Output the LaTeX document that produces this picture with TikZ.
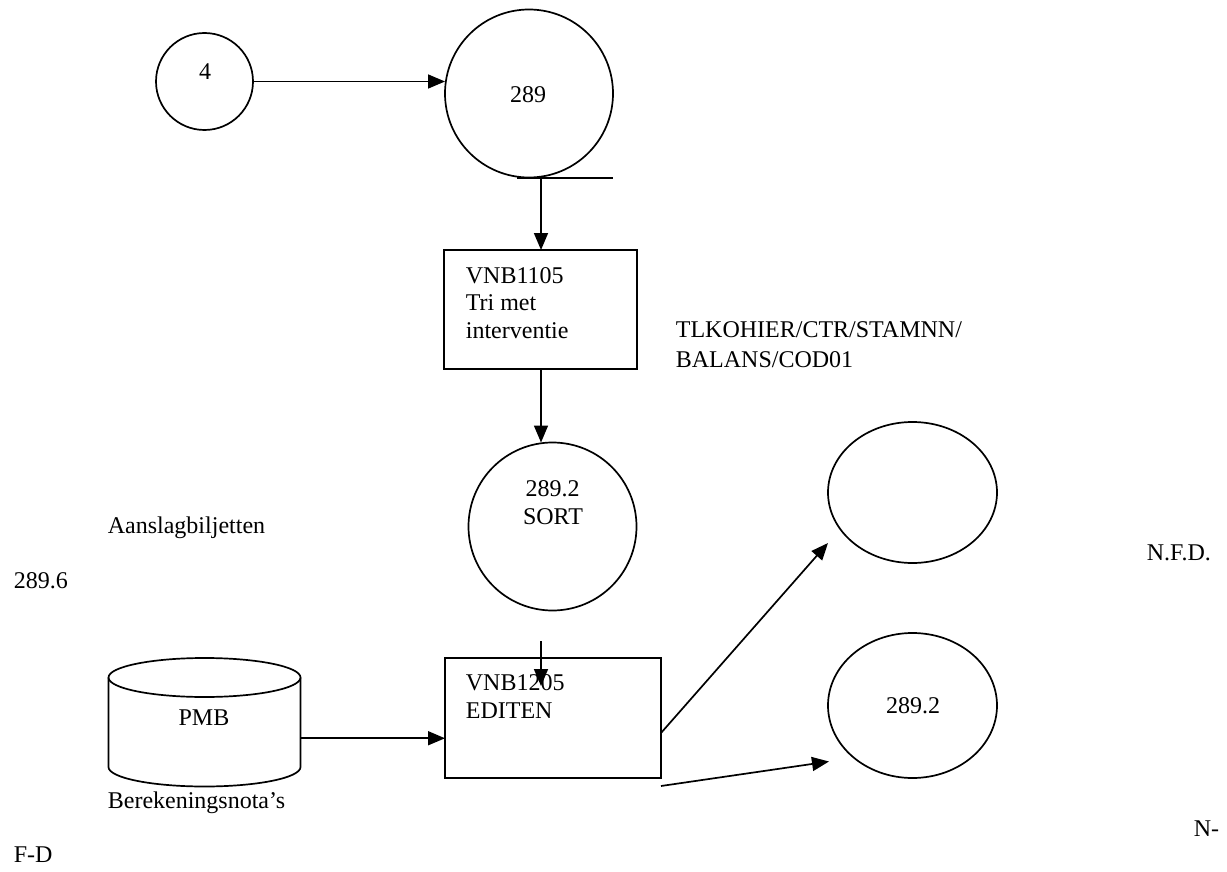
\documentclass[tikz,border=0pt]{standalone}
\usepackage{fontspec}
\setmainfont{Liberation Serif}
\usetikzlibrary{arrows.meta,shapes.geometric}
\begin{document}
\begin{tikzpicture}[x=1pt,y=1pt, line width=1.7pt,
  txt/.style={inner sep=0pt, font=\fontsize{24}{27.6}\selectfont},
  arr/.style={-{Triangle[length=17pt,width=14pt]}},
  proc/.style={draw, circle, inner sep=0pt, outer sep=0pt},
  ell/.style={draw, ellipse, inner sep=0pt, outer sep=0pt},
  boxnode/.style={draw, rectangle, inner sep=0pt, outer sep=0pt}]
\useasboundingbox (0,0) rectangle (1227,-872);
% shapes
\node[proc, minimum size=97pt] (c4) at (204.5,-81.5) {};
\node[proc, minimum size=168pt] (c289) at (529,-93.5) {};
\node[boxnode, minimum width=193pt, minimum height=119pt] (b1) at (540.5,-309.5) {};
\node[proc, minimum size=168pt] (sort) at (552.5,-526.5) {};
\node[boxnode, minimum width=216pt, minimum height=120pt] (b2) at (553,-718) {};
\node[ell, minimum width=169pt, minimum height=141pt] (e1) at (912.5,-492.5) {};
\node[ell, minimum width=169pt, minimum height=145pt] (e2) at (912.5,-705.5) {};
\node[inner sep=0pt, outer sep=0pt, minimum width=192pt, minimum height=89.5pt] (pmb) at (204.5,-722.25) {};
\draw (pmb.north) ellipse [x radius=96, y radius=19.5];
\draw (pmb.north west) -- (pmb.south west) arc[start angle=180, end angle=360, x radius=96, y radius=19.5] -- (pmb.north east);
% texts
\node[txt, anchor=base] (t4) at (205,-80) {4};
\node[txt, anchor=base] (t289) at (528,-103) {289};
\node[txt, anchor=base west] (b1a) at (465,-283) {VNB1105};
\node[txt, anchor=base west] (b1b) at (465,-310.5) {Tri met};
\node[txt, anchor=base west] (b1c) at (465,-338) {interventie};
\node[txt, anchor=base west] (tl1) at (675,-337) {TLKOHIER/CTR/STAMNN/};
\node[txt, anchor=base west] (tl2) at (675,-367) {BALANS/COD01};
\node[txt, anchor=base] (s1) at (552.7,-496) {289.2};
\node[txt, anchor=base] (s2) at (553,-524) {SORT};
\node[txt, anchor=base west] (aan) at (107,-533) {Aanslagbiljetten};
\node[txt, anchor=base west] (t2896) at (13,-588) {289.6};
\node[txt, anchor=base] (tpmb) at (204,-725) {PMB};
\node[txt, anchor=base west] (b2a) at (465,-690) {VNB1205};
\node[txt, anchor=base west] (b2b) at (465,-718) {EDITEN};
\node[txt, anchor=base west] (ber) at (107,-808) {Berekeningsnota’s};
\node[txt, anchor=base west] (fd) at (13,-862) {F-D};
\node[txt, anchor=base] (e2t) at (913,-713) {289.2};
\node[txt, anchor=base west] (nfd) at (1146,-560) {N.F.D.};
\node[txt, anchor=base west] (nm) at (1193,-836) {N-};
% connectors
\draw[arr] (c4.east) -- (c4.east -| c289.west);
\coordinate (tapL) at (517,-178);
\coordinate (tapR) at (613,-178);
\coordinate (tap) at (541,-178);
\draw (tapL) -- (tapR);
\draw[arr] (tap) -- (tap |- b1.north);
\draw[arr] (tap |- b1.south) -- (tap |- sort.north);
\coordinate (d1) at (541,-641);
\coordinate (d2) at (541,-686);
\draw[arr] (d1) -- (d2);
\draw[arr] ([yshift=-16pt]pmb.east) -- ([yshift=-16pt]pmb.east -| b2.west);
\draw[arr] ([yshift=-15pt]b2.east) -- ([yshift=-50.5pt]e1.west);
\draw[arr] ([yshift=-8pt]b2.south east) -- ([shift={(1pt,-56pt)}]e2.west);
\end{tikzpicture}
\end{document}
